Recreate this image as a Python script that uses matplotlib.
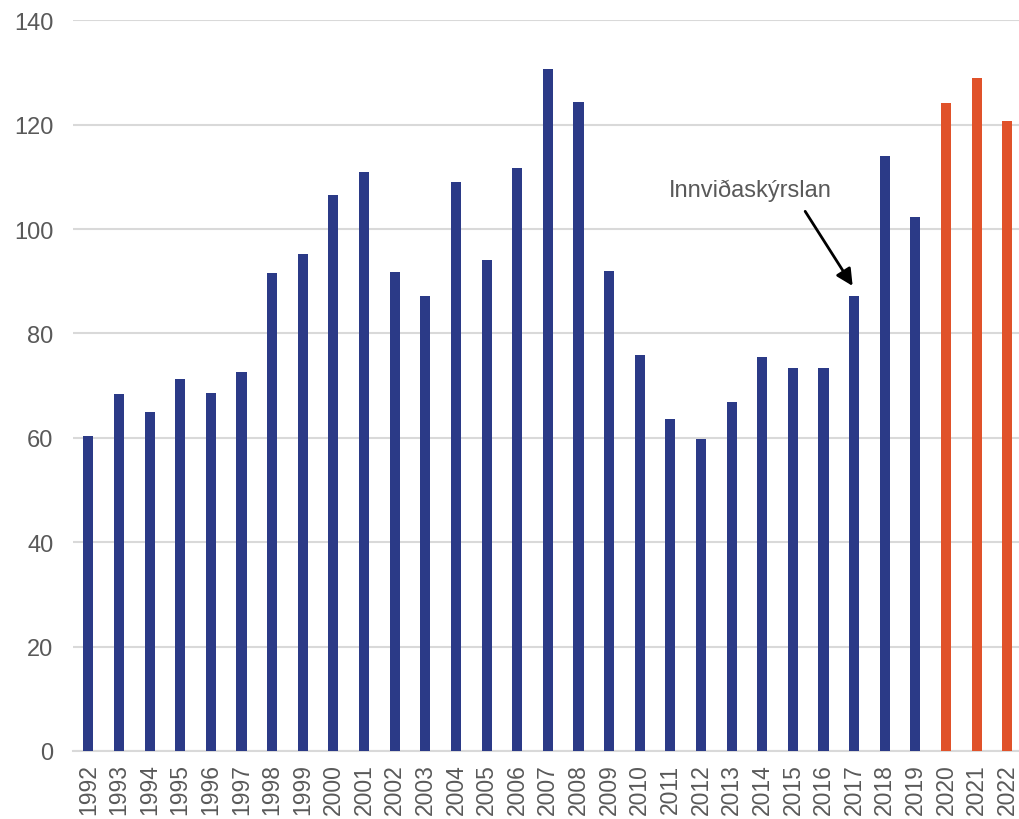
import matplotlib
matplotlib.use("Agg")
import matplotlib.pyplot as plt

plt.rcParams['font.family'] = ['Liberation Sans', 'DejaVu Sans']

years = [str(y) for y in range(1992, 2023)]
values = [60.3, 68.4, 64.9, 71.3, 68.6, 72.6, 91.6, 95.2, 106.5, 110.9,
          91.8, 87.2, 109.0, 94.1, 111.7, 130.7, 124.3, 92.0, 75.9, 63.6,
          59.8, 66.9, 75.5, 73.4, 73.4, 87.2, 114.0, 102.3, 124.1, 128.9, 120.7]
forecast_from = "2020"

blue = "#2B3A87"
orange = "#E0522A"
colors = [orange if y >= forecast_from else blue for y in years]

fig = plt.figure(figsize=(10.2, 8.2), dpi=100)
ax = fig.add_axes([0.0716, 0.083, 0.931, 0.891])
x = list(range(len(years)))
ax.bar(x, values, width=0.33, color=colors, zorder=3)
ax.set_xlim(-0.5, len(years) - 0.5)
ax.set_ylim(0, 140)
ax.set_yticks(range(0, 141, 20))
ax.set_xticks(x)
ax.set_xticklabels(years, rotation=90)
ax.tick_params(axis='both', length=0, colors='#595959')
ax.tick_params(axis='y', pad=14, labelsize=17)
ax.tick_params(axis='x', pad=9, labelsize=16.5)
ax.grid(axis='y', color='#D9D9D9', linewidth=1.5, zorder=0)
for s in ['top', 'right', 'left']:
    ax.spines[s].set_visible(False)
ax.spines['bottom'].set_color('#D9D9D9')
ax.spines['bottom'].set_linewidth(1.5)

ax.text(21.6, 107.6, "Innviðaskýrslan", ha='center', va='center',
        fontsize=17, color='#595959')
ax.annotate("", xy=(24.95, 89.1), xytext=(23.4, 103.4),
            arrowprops=dict(arrowstyle='-|>', color='black', lw=2,
                            mutation_scale=25, shrinkA=0, shrinkB=0))

fig.savefig("out.png", dpi=100)
